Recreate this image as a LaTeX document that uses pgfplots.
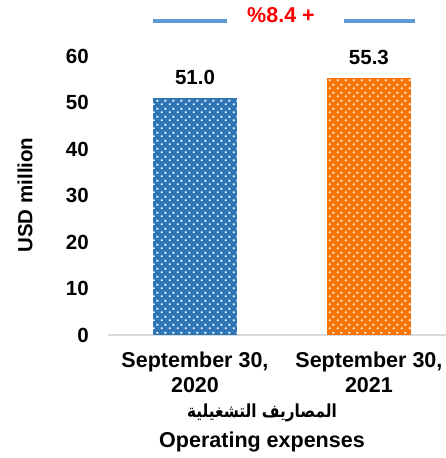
\documentclass[border=0pt]{standalone}
\usepackage{fontspec}
\setmainfont{Liberation Sans}
\newfontfamily\arabicfont[Script=Arabic]{DejaVu Sans}
\usepackage{pgfplots}
\pgfplotsset{compat=1.18}
\usetikzlibrary{patterns.meta}
\TeXXeTstate=1
\definecolor{barblue}{RGB}{46,117,182}
\definecolor{barorange}{RGB}{250,115,5}
\definecolor{lineblue}{RGB}{91,155,213}
\definecolor{basegray}{RGB}{217,217,217}
\pgfdeclarepattern{
  name=sqdots,
  type=uncolored,
  bottom left={\pgfpoint{0pt}{0pt}},
  top right={\pgfpoint{8pt}{8pt}},
  tile size={\pgfpoint{8pt}{8pt}},
  code={
    \pgfpathrectangle{\pgfpoint{1pt}{1pt}}{\pgfpoint{2pt}{2pt}}
    \pgfpathrectangle{\pgfpoint{5pt}{5pt}}{\pgfpoint{2pt}{2pt}}
    \pgfusepath{fill}
  }
}
\begin{document}
\begin{tikzpicture}[x=1pt,y=1pt]
\useasboundingbox (0,0) rectangle (446,458);
\begin{axis}[
  at={(108pt,123pt)}, anchor=south west,
  scale only axis, width=338pt, height=279pt,
  ymin=0, ymax=60, xmin=-0.5, xmax=1.443,
  ytick={0,10,20,30,40,50,60},
  xtick={0,1},
  xticklabels={{September 30,\\2020},{September 30,\\2021}},
  axis x line*=bottom, axis y line*=left,
  y axis line style={draw=none},
  x axis line style={draw=basegray, line width=1.5pt},
  major tick length=0pt,
  tick style={draw=none},
  /pgf/number format/assume math mode=true,
  yticklabel style={font=\fontsize{20.5}{24}\selectfont\bfseries, anchor=east, inner sep=0pt, xshift=-19pt},
  xticklabel style={font=\fontsize{21.5}{25}\selectfont\bfseries, align=center, anchor=north, inner sep=0pt, yshift=-17pt},
  bar width=84pt,
  nodes near coords,
  nodes near coords style={font=\fontsize{20.5}{24}\selectfont\bfseries, anchor=south, inner sep=0pt, yshift=13pt, /pgf/number format/.cd, fixed, fixed zerofill, precision=1},
  clip=false,
]
\addplot[ybar, bar shift=0pt, draw=none, fill=barblue, postaction={pattern=sqdots, pattern color=white}] coordinates {(0,51.0)};
\addplot[ybar, bar shift=0pt, draw=none, fill=barorange, postaction={pattern=sqdots, pattern color=white}] coordinates {(1,55.3)};
\end{axis}
\node[rotate=90, font=\fontsize{20.5}{24}\selectfont\bfseries] at (25,263) {USD million};
\draw[lineblue, line width=3.5pt] (153,437) -- (227,437);
\draw[lineblue, line width=3.5pt] (344,437) -- (415,437);
\node[red, font=\fontsize{21.5}{24}\selectfont\bfseries] at (281,443) {\%8.4 +};
\node[xscale=0.85, font=\fontsize{18}{20}\selectfont\bfseries] at (262,45) {\arabicfont\beginR المصاريف التشغيلية\endR};
\node[font=\fontsize{21.5}{24}\selectfont\bfseries] at (262,16) {Operating expenses};
\end{tikzpicture}
\end{document}
